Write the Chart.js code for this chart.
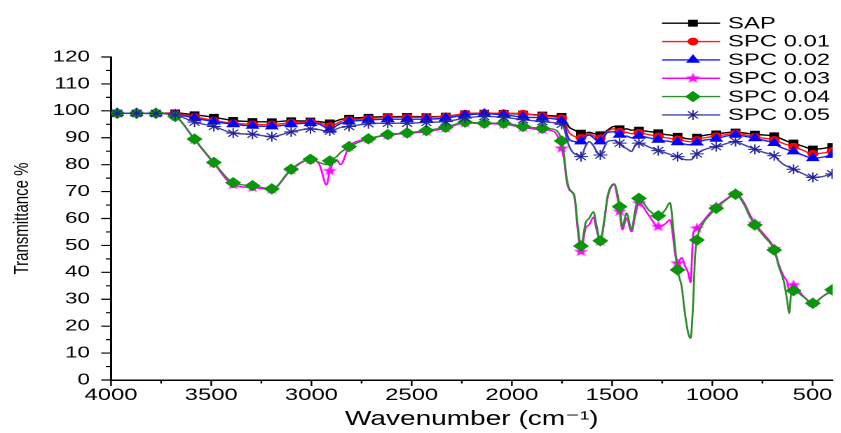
<!DOCTYPE html>
<html>
<head>
<meta charset="utf-8">
<script src="https://cdn.jsdelivr.net/npm/chart.js@4.4.1/dist/chart.umd.min.js"></script>
<style>
html, body { margin: 0; padding: 0; background: #ffffff; overflow: hidden; }
#frame { width: 841px; height: 433px; overflow: hidden; position: relative; background: #fff; }
#wrap { position: absolute; left: 0; top: 0; width: 600px; height: 433px;
        transform: scaleX(1.401667); transform-origin: 0 0; }
</style>
</head>
<body>
<div id="frame"><div id="wrap"><canvas id="c"></canvas></div></div>
<script>
// ---------- data ----------
const wavenumbers = [
  4000,
  3969, 3872.6, 3776.2, 3679.8, 3583.4, 3487, 3390.6, 3294.2, 3197.8, 3101.4, 3005,
  2960, 2925,
  2908.6,
  2874, 2855,
  2812.2, 2715.8, 2619.4, 2523, 2426.6, 2330.2, 2233.8, 2137.4, 2041, 1944.6, 1848.2,
  1790,
  1751.8,
  1737, 1728, 1715, 1701, 1687, 1671,
  1655.4,
  1632, 1615, 1593, 1578,
  1559,
  1539, 1523, 1490, 1474,
  1462.6,
  1449, 1428, 1403, 1385,
  1366.2,
  1318,
  1269.8,
  1235, 1211, 1196, 1188,
  1173.4,
  1153, 1137, 1120, 1109, 1095, 1087,
  1077,
  1046, 1013,
  980.6,
  931,
  884.2,
  841, 813,
  787.8,
  741,
  691.4,
  668, 643, 627, 616, 606,
  595,
  547,
  498.6,
  450,
  402.2
];

const markerWavenumbers = [
  3969, 3872.6, 3776.2, 3679.8, 3583.4, 3487, 3390.6, 3294.2, 3197.8, 3101.4, 3005,
  2908.6, 2812.2, 2715.8, 2619.4, 2523, 2426.6, 2330.2, 2233.8, 2137.4, 2041, 1944.6,
  1848.2, 1751.8, 1655.4, 1559, 1462.6, 1366.2, 1269.8, 1173.4, 1077, 980.6, 884.2,
  787.8, 691.4, 595, 498.6, 402.2
];

const sap = [
  99.1,
  99.1, 99.1, 99.1, 99.2, 98.5, 97.6, 96.4, 96.0, 95.9, 96.3, 96.2,
  96.0, 95.6,
  95.5,
  96.3, 96.8,
  97.2, 97.6, 97.8, 97.9, 97.8, 98.0, 98.9, 99.1, 99.0, 98.8, 98.4,
  98.1,
  97.9,
  97.0, 95.5, 94.0, 93.3, 92.8, 92.2,
  91.7,
  91.8, 92.0, 91.6, 91.3,
  91.1,
  91.8, 92.8, 94.2, 93.8,
  93.3,
  93.0, 93.3, 92.8, 92.9,
  92.8,
  92.3,
  91.8,
  91.2, 91.0, 90.8, 90.6,
  90.5,
  90.2, 89.8, 89.6, 89.5, 89.8, 90.0,
  90.2,
  90.8, 91.2,
  91.4,
  91.9,
  92.1,
  91.8, 91.5,
  91.3,
  91.0,
  90.7,
  90.0, 89.2, 88.7, 88.4, 88.2,
  88.0,
  86.8,
  85.8,
  86.0,
  86.7
];

const spc001 = [
  99.1,
  99.1, 99.1, 99.1, 99.0, 97.8, 96.4, 95.4, 95.0, 94.9, 95.6, 95.8,
  95.5, 94.6,
  94.3,
  95.3, 96.0,
  96.6, 97.1, 97.6, 97.6, 97.6, 97.9, 98.9, 99.1, 99.1, 98.9, 98.1,
  97.7,
  97.3,
  96.0, 94.0, 92.0, 91.0, 90.5, 90.2,
  90.0,
  91.0, 91.4, 90.8, 90.2,
  89.8,
  91.2, 92.4, 93.3, 92.7,
  92.2,
  91.8, 92.0, 91.5, 91.8,
  91.8,
  91.2,
  90.5,
  90.0, 89.8, 89.6, 89.5,
  89.4,
  89.1, 88.8, 88.6, 88.5, 88.8, 89.0,
  89.2,
  89.9, 90.3,
  90.6,
  91.2,
  91.6,
  91.2, 90.7,
  90.3,
  89.8,
  89.2,
  88.5, 87.8, 87.4, 87.2, 87.0,
  86.7,
  85.3,
  84.0,
  84.3,
  85.0
];

const spc002 = [
  99.1,
  99.1, 99.1, 99.0, 98.7, 97.3, 96.0, 95.0, 94.4, 94.2, 95.0, 95.4,
  95.0, 93.6,
  93.0,
  94.5, 95.3,
  96.0, 96.6, 96.9, 96.9, 96.9, 97.3, 98.4, 98.9, 98.5, 97.7, 97.4,
  97.0,
  96.2,
  94.5, 92.0, 89.5, 88.8, 88.6, 88.5,
  88.6,
  90.5, 91.0, 90.0, 89.0,
  88.6,
  90.5, 92.0, 92.2, 91.5,
  91.1,
  90.3, 90.6, 90.0, 90.5,
  90.7,
  90.0,
  89.2,
  88.8, 88.6, 88.4, 88.3,
  88.3,
  88.0, 87.6, 87.4, 87.5, 87.9, 88.1,
  88.2,
  89.0, 89.4,
  89.6,
  90.6,
  91.1,
  90.6, 90.2,
  89.8,
  89.0,
  88.0,
  86.8, 86.0, 85.6, 85.3, 85.1,
  84.9,
  83.5,
  82.4,
  82.8,
  83.6
];

const spc003 = [
  99.1,
  99.1, 99.1, 99.1, 98.0, 89.3, 80.5, 72.5, 71.5, 70.8, 78.0, 81.8,
  80.0, 72.5,
  77.7,
  81.8, 80.0,
  86.7, 89.5, 91.0, 91.6, 92.3, 93.5, 95.5, 95.2, 95.0, 93.8, 93.0,
  92.3,
  86.1,
  80.5, 74.5, 70.8, 69.8, 67.5, 55.5,
  47.7,
  56.5, 57.6, 60.5, 56.0,
  51.5,
  59.0, 67.5, 72.5, 68.0,
  62.6,
  55.8, 60.1, 55.1, 61.0,
  65.7,
  61.3,
  57.0,
  58.0, 59.5, 53.3, 48.0,
  43.4,
  45.5, 42.5, 39.7, 36.2, 54.5, 55.5,
  56.4,
  59.0, 62.0,
  64.4,
  67.2,
  69.3,
  65.8, 61.5,
  58.2,
  54.0,
  48.8,
  42.8, 38.4, 36.5, 33.0, 34.5,
  35.3,
  31.2,
  28.7,
  31.0,
  33.3
];

const spc004 = [
  99.0,
  99.1, 99.1, 99.1, 97.9, 89.5, 80.8, 73.3, 72.2, 71.0, 78.3, 82.0,
  80.8, 80.0,
  81.4,
  83.0, 84.5,
  86.7, 89.6, 91.2, 91.8, 92.7, 93.9, 95.8, 95.4, 95.4, 94.2, 93.5,
  93.1,
  88.8,
  81.8, 75.6, 71.3, 70.0, 68.1, 57.0,
  49.8,
  58.5, 60.0, 62.5, 57.5,
  51.7,
  59.5, 68.2, 72.9, 69.4,
  64.4,
  57.0, 62.0, 55.8, 63.0,
  67.5,
  63.2,
  61.0,
  63.2, 65.9, 57.0, 50.8,
  40.9,
  34.7, 24.9, 17.3, 15.5, 29.7, 45.0,
  52.0,
  58.2, 61.3,
  63.8,
  66.9,
  69.0,
  65.1, 60.7,
  57.6,
  53.3,
  48.3,
  42.1, 36.5, 29.7, 24.8, 32.8,
  33.2,
  31.0,
  28.5,
  31.0,
  33.5
];

const spc005 = [
  99.1,
  99.1, 99.1, 99.0, 98.5, 95.8, 94.2, 91.7, 91.3, 90.4, 92.2, 93.3,
  93.0, 92.4,
  92.5,
  93.3, 93.8,
  94.2, 95.2, 95.4, 95.4, 95.7, 96.0, 97.3, 97.9, 97.6, 96.7, 96.0,
  95.6,
  95.0,
  93.0, 90.0, 87.0, 85.0, 84.0, 83.5,
  83.0,
  87.0, 88.6, 87.0, 85.0,
  83.6,
  86.5, 88.6, 89.0, 88.3,
  88.0,
  86.8, 86.0, 84.9, 87.2,
  88.0,
  86.6,
  85.2,
  84.4, 83.8, 83.3, 83.1,
  83.0,
  82.3, 81.9, 81.8, 81.8, 82.5, 83.3,
  84.0,
  85.4, 86.2,
  86.7,
  87.8,
  88.6,
  87.3, 86.5,
  85.7,
  84.5,
  83.3,
  81.5, 80.0, 79.4, 79.0, 78.6,
  78.3,
  76.6,
  75.3,
  75.6,
  76.6
];

const seriesNames = ['SAP', 'SPC 0.01', 'SPC 0.02', 'SPC 0.03', 'SPC 0.04', 'SPC 0.05'];
const xTickValues = [4000, 3500, 3000, 2500, 2000, 1500, 1000, 500];
const xMinorTickValues = [3750, 3250, 2750, 2250, 1750, 1250, 750];
const yMinorTickValues = [5, 15, 25, 35, 45, 55, 65, 75, 85, 95, 105, 115];

// ---------- styling ----------
function makeStar(size, color) {
  const c = document.createElement('canvas');
  c.width = size; c.height = size;
  const g = c.getContext('2d');
  g.fillStyle = color;
  g.beginPath();
  for (let i = 0; i < 10; i++) {
    const r = (i % 2) ? size * 0.2 : size * 0.5;
    const a = -Math.PI / 2 + i * Math.PI / 5;
    g.lineTo(size / 2 + r * Math.cos(a), size / 2 + r * Math.sin(a));
  }
  g.closePath();
  g.fill();
  return c;
}
const starImg = makeStar(11, '#ff00ff');

const styles = [
  { line: '#000000', fill: '#000000', stroke: '#000000', shape: 'rect', r: 4.2 },
  { line: '#ff1a1a', fill: '#ff0000', stroke: '#ff0000', shape: 'circle', r: 3.4 },
  { line: '#1a1aff', fill: '#0000ff', stroke: '#0000ff', shape: 'triangle', r: 4.8 },
  { line: '#ff00ff', fill: '#ff00ff', stroke: '#ff00ff', shape: starImg, r: 5 },
  { line: '#2e8b2e', fill: '#0a960a', stroke: '#0a960a', shape: 'rectRot', r: 5 },
  { line: '#4545ad', fill: '#22229a', stroke: '#22229a', shape: 'star', r: 5 }
];

const seriesValues = [sap, spc001, spc002, spc003, spc004, spc005];
const markerSet = new Set(markerWavenumbers);

const datasets = seriesValues.map((vals, i) => {
  const st = styles[i];
  return {
    label: seriesNames[i],
    data: wavenumbers.map((w, j) => ({ x: w, y: vals[j] })),
    borderColor: st.line,
    backgroundColor: st.fill,
    borderWidth: 1.4,
    pointStyle: st.shape,
    pointBackgroundColor: st.fill,
    pointBorderColor: st.stroke,
    pointBorderWidth: 1,
    pointRadius: (ctx) => markerSet.has(wavenumbers[ctx.dataIndex]) ? st.r : 0,
    pointHoverRadius: (ctx) => markerSet.has(wavenumbers[ctx.dataIndex]) ? st.r : 0,
    cubicInterpolationMode: 'monotone',
    fill: false,
    order: 6 - i
  };
});

// ---------- plugins ----------
function drawMarker(ctx, st, x, y) {
  const r = st.r;
  ctx.save();
  ctx.fillStyle = st.fill;
  ctx.strokeStyle = st.stroke;
  ctx.lineWidth = 1;
  if (st.shape instanceof HTMLCanvasElement) {
    ctx.drawImage(st.shape, x - st.shape.width / 2, y - st.shape.height / 2);
  } else if (st.shape === 'rect') {
    const s = Math.SQRT1_2 * r;
    ctx.fillRect(x - s, y - s, 2 * s, 2 * s);
    ctx.strokeRect(x - s, y - s, 2 * s, 2 * s);
  } else if (st.shape === 'circle') {
    ctx.beginPath(); ctx.arc(x, y, r, 0, Math.PI * 2); ctx.fill(); ctx.stroke();
  } else if (st.shape === 'triangle') {
    ctx.beginPath();
    for (let k = 0; k < 3; k++) {
      const a = k * 2 * Math.PI / 3;
      ctx.lineTo(x + Math.sin(a) * r, y - Math.cos(a) * r);
    }
    ctx.closePath(); ctx.fill(); ctx.stroke();
  } else if (st.shape === 'rectRot') {
    ctx.beginPath();
    ctx.moveTo(x, y - r); ctx.lineTo(x + r, y); ctx.lineTo(x, y + r); ctx.lineTo(x - r, y);
    ctx.closePath(); ctx.fill(); ctx.stroke();
  } else if (st.shape === 'star') {
    ctx.beginPath();
    for (let k = 0; k < 4; k++) {
      const a = k * Math.PI / 4;
      ctx.moveTo(x - Math.cos(a) * r, y - Math.sin(a) * r);
      ctx.lineTo(x + Math.cos(a) * r, y + Math.sin(a) * r);
    }
    ctx.stroke();
  }
  ctx.restore();
}

const insetLegend = {
  id: 'insetLegend',
  afterDraw(chart) {
    const ctx = chart.ctx;
    ctx.save();
    chart.data.datasets.forEach((ds, i) => {
      const st = styles[i];
      const y = 23.2 + 18.35 * i;
      ctx.strokeStyle = st.line;
      ctx.lineWidth = 1.4;
      ctx.beginPath(); ctx.moveTo(472.3, y); ctx.lineTo(513.7, y); ctx.stroke();
      drawMarker(ctx, st, 494.4, y);
      ctx.fillStyle = '#000';
      ctx.font = '17px "Liberation Sans", Arial, sans-serif';
      ctx.textBaseline = 'middle';
      ctx.textAlign = 'left';
      ctx.fillText(ds.label, 519.4, y + 0.5);
    });
    ctx.restore();
  }
};

const axisTicks = {
  id: 'axisTicks',
  afterDraw(chart) {
    const { ctx, chartArea } = chart;
    const xs = chart.scales.x, ys = chart.scales.y;
    ctx.save();
    ctx.strokeStyle = '#000';
    ctx.lineWidth = 1.2;
    ctx.beginPath();
    xTickValues.forEach(v => {
      const p = xs.getPixelForValue(v);
      ctx.moveTo(p, chartArea.bottom); ctx.lineTo(p, chartArea.bottom + 6);
    });
    xMinorTickValues.forEach(v => {
      const p = xs.getPixelForValue(v);
      ctx.moveTo(p, chartArea.bottom); ctx.lineTo(p, chartArea.bottom + 3.5);
    });
    ys.ticks.forEach(t => {
      const p = ys.getPixelForValue(t.value);
      ctx.moveTo(chartArea.left, p); ctx.lineTo(chartArea.left - 7, p);
    });
    yMinorTickValues.forEach(v => {
      const p = ys.getPixelForValue(v);
      ctx.moveTo(chartArea.left, p); ctx.lineTo(chartArea.left - 3.6, p);
    });
    ctx.stroke();
    ctx.restore();
  }
};

const fontFamily = '"Liberation Sans", Arial, "DejaVu Sans", sans-serif';

new Chart(document.getElementById('c'), {
  type: 'line',
  data: { datasets },
  options: {
    responsive: true,
    maintainAspectRatio: false,
    animation: false,
    devicePixelRatio: 2,
    layout: { padding: { top: 57, left: 0, right: 0, bottom: 0 } },
    plugins: {
      legend: { display: false },
      tooltip: { enabled: false },
      title: { display: false }
    },
    scales: {
      x: {
        type: 'linear',
        reverse: true,
        min: 400,
        max: 4000,
        afterBuildTicks: (scale) => { scale.ticks = xTickValues.map(v => ({ value: v })); },
        afterFit: (scale) => { scale.height = 53; scale.paddingRight = 0; scale.paddingLeft = 0; },
        grid: { display: false, drawTicks: false },
        border: { display: true, color: '#000', width: 1.5 },
        ticks: {
          autoSkip: false, maxRotation: 0, minRotation: 0,
          padding: 5, color: '#000',
          font: { family: fontFamily, size: 17 },
          callback: (v) => String(v)
        },
        title: {
          display: true,
          text: 'Wavenumber (cm\u207B\u00B9)',
          color: '#000',
          font: { family: fontFamily, size: 20 },
          padding: { top: 0, bottom: 1.5 }
        }
      },
      y: {
        min: 0,
        max: 120,
        afterFit: (scale) => { scale.width = 79.2; },
        grid: { display: false, drawTicks: false },
        border: { display: true, color: '#000', width: 1.5 },
        ticks: {
          stepSize: 10, padding: 15, color: '#000',
          font: { family: fontFamily, size: 16 },
          callback: (v) => String(v)
        },
        title: {
          display: true,
          text: 'Transmittance %',
          color: '#000',
          font: { family: fontFamily, size: 15 },
          padding: { top: 7, bottom: 0 }
        }
      }
    }
  },
  plugins: [axisTicks, insetLegend]
});
</script>
</body>
</html>
